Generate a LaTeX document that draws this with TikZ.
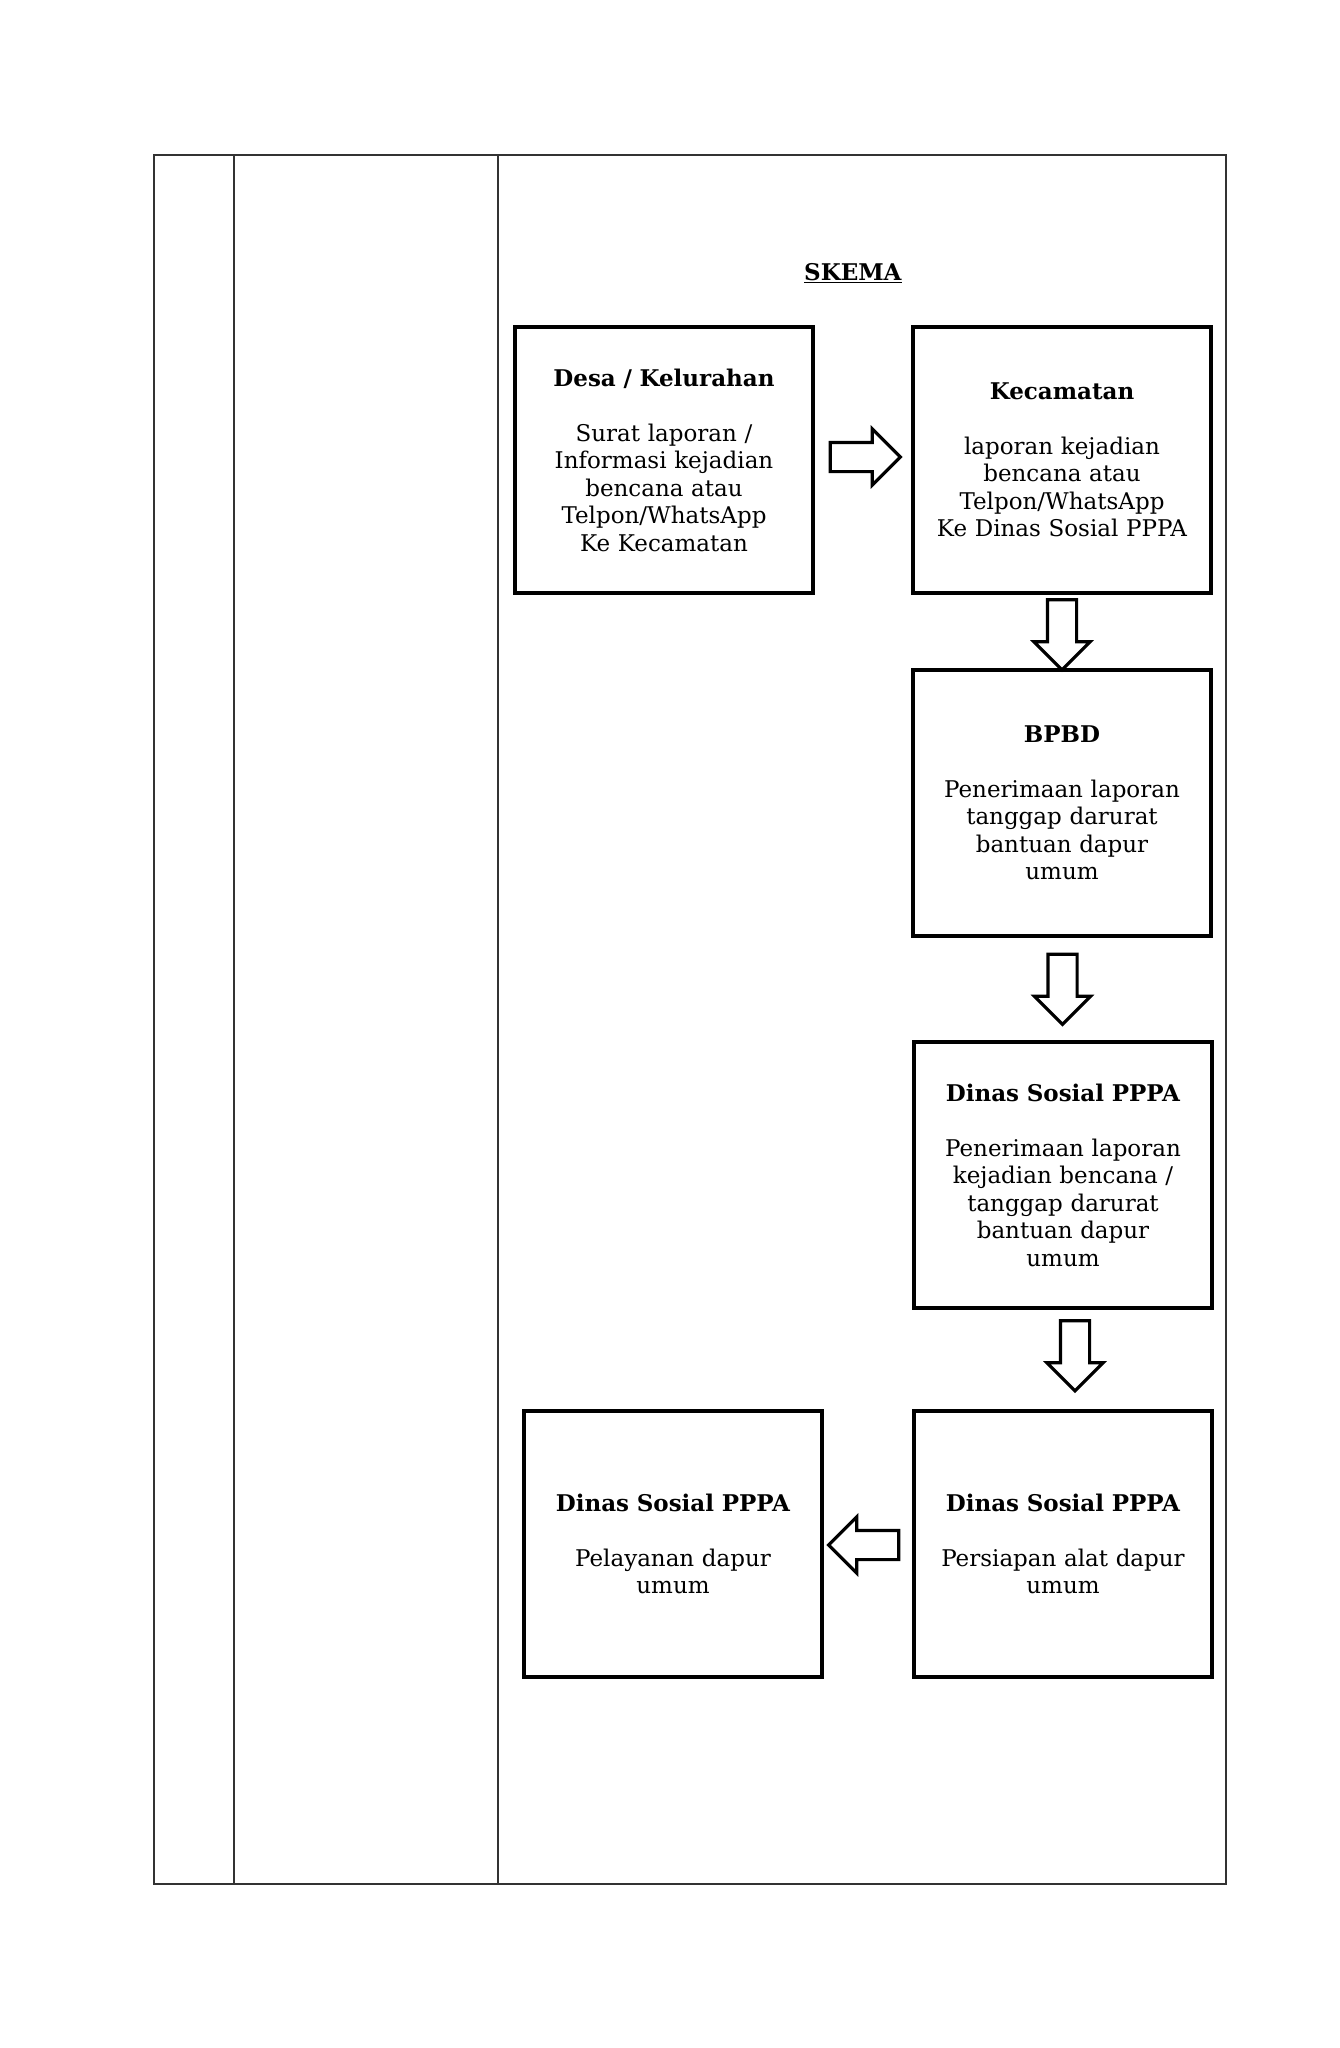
\documentclass[tikz,border=0pt]{standalone}
\usepackage{fontspec}
\setmainfont{DejaVu Serif}
\usetikzlibrary{shapes.arrows,calc}
\begin{document}
\begin{tikzpicture}[x=1pt,y=-1pt,
  box/.style={draw,line width=3.6pt,minimum width=298pt,minimum height=266pt,
    align=center,text width=290pt,inner sep=0pt,font=\fontsize{23}{27.5}\selectfont},
  blockarrow/.style={draw,line width=3.2pt,single arrow,inner sep=13pt,
    single arrow head extend=13.5pt,minimum height=70pt,fill=white},
  tablerule/.style={line width=2pt,draw=black!80}]
\useasboundingbox (0,0) rectangle (1339,2048);
% table
\draw[tablerule] (154,155) rectangle (1226,1884);
\coordinate (c1t) at (234,155); \coordinate (c1b) at (234,1884);
\coordinate (c2t) at (498,155); \coordinate (c2b) at (498,1884);
\draw[tablerule] (c1t) -- (c1b);
\draw[tablerule] (c2t) -- (c2b);
% title
\node[font=\fontsize{23}{26}\selectfont] (skema) at (853,273) {\underline{\textbf{SKEMA}}};
% boxes
\node[box] (b1) at (664,460) {\textbf{Desa / Kelurahan}\\[27.5pt]Surat laporan /\\Informasi kejadian\\bencana atau\\Telpon/WhatsApp\\Ke Kecamatan};
\node[box] (b2) at (1062,460) {\textbf{Kecamatan}\\[27.5pt]laporan kejadian\\bencana atau\\Telpon/WhatsApp\\Ke Dinas Sosial PPPA};
\node[box] (b3) at (1062,803) {\textbf{BPBD}\\[27.5pt]Penerimaan laporan\\tanggap darurat\\bantuan dapur\\umum};
\node[box] (b4) at (1063,1175) {\textbf{Dinas Sosial PPPA}\\[27.5pt]Penerimaan laporan\\kejadian bencana /\\tanggap darurat\\bantuan dapur\\umum};
\node[box] (b5) at (1063,1544) {\textbf{Dinas Sosial PPPA}\\[27.5pt]Persiapan alat dapur\\umum};
\node[box] (b6) at (673,1544) {\textbf{Dinas Sosial PPPA}\\[27.5pt]Pelayanan dapur\\umum};
% arrows
\node[blockarrow] (a1) at ($(b1.east)!0.5!(b2.west)+(-5,-3)$) {};
\node[blockarrow,shape border rotate=270] (a2) at ($(b2.south)!0.5!(b3.north)+(0,-4)$) {};
\node[blockarrow,shape border rotate=270] (a3) at ($(b3.south)!0.5!(b4.north)+(0,-7)$) {};
\node[blockarrow,shape border rotate=270] (a4) at ($(b4.south)!0.5!(b5.north)+(12,-11)$) {};
\node[blockarrow,shape border rotate=180] (a5) at ($(b6.east)!0.5!(b5.west)+(3,1)$) {};
\end{tikzpicture}
\end{document}
